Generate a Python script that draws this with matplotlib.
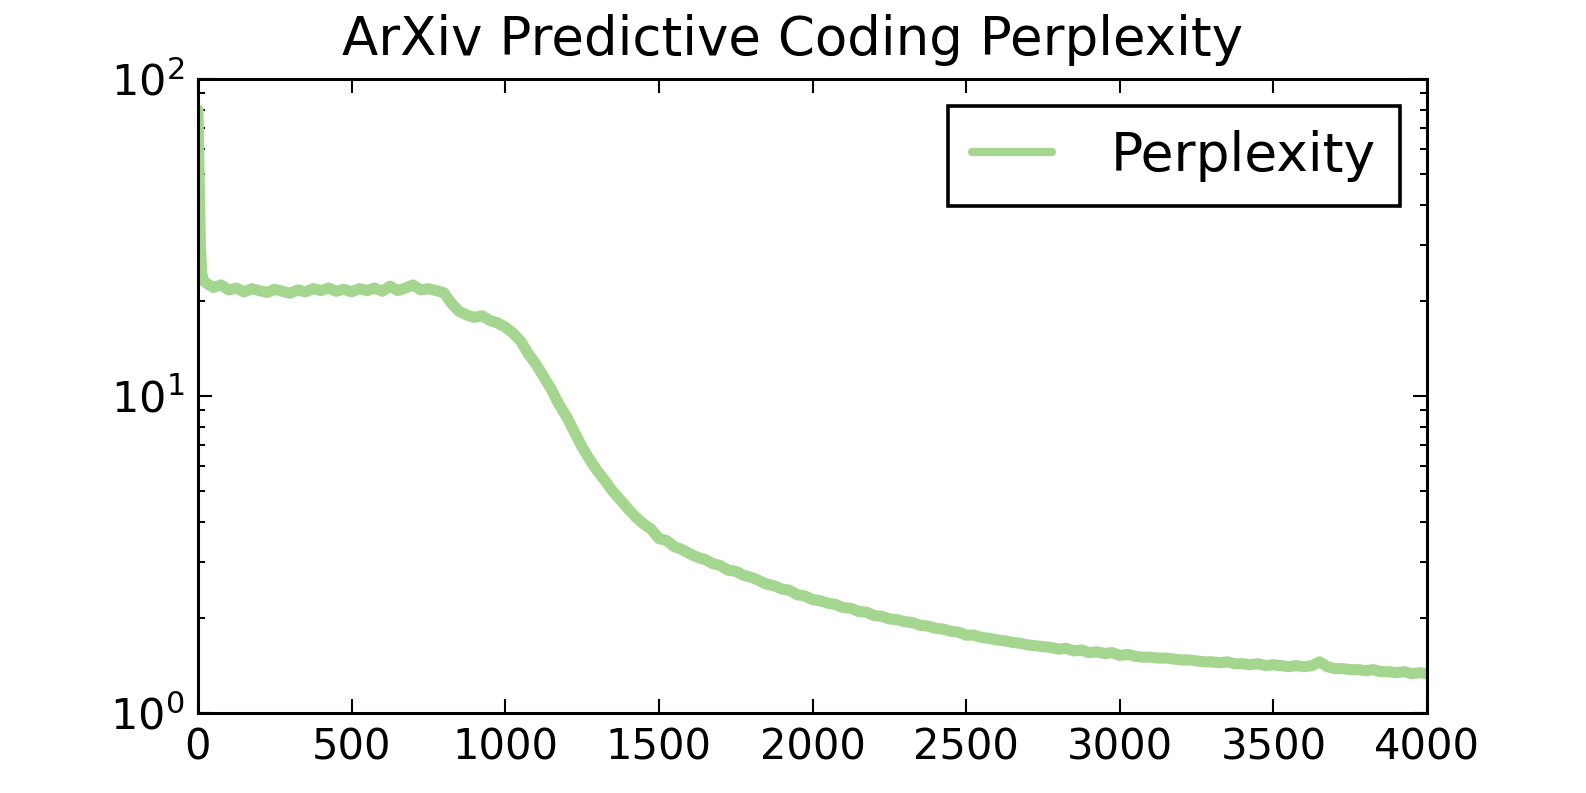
import matplotlib
matplotlib.use("Agg")
import matplotlib.pyplot as plt
from matplotlib.ticker import LogLocator, NullFormatter

# ---- data ----
steps_head = [0, 4, 8, 12, 16, 20]
perp_head = [80.0, 50.0, 30.0, 24.5, 23.5, 23.0]

steps = [25, 50, 75, 100, 125, 150, 175, 200, 225, 250, 275, 300, 325, 350, 375,
         400, 425, 450, 475, 500, 525, 550, 575, 600, 625, 650, 675, 700, 725, 750,
         775, 800, 825, 850, 875, 900, 925, 950, 975, 1000, 1025, 1050, 1075, 1100,
         1125, 1150, 1175, 1200, 1225, 1250, 1275, 1300, 1325, 1350, 1375, 1400,
         1425, 1450, 1475, 1500, 1525, 1550, 1575, 1600, 1625, 1650, 1675, 1700,
         1725, 1750, 1775, 1800, 1825, 1850, 1875, 1900, 1925, 1950, 1975, 2000,
         2025, 2050, 2075, 2100, 2125, 2150, 2175, 2200, 2225, 2250, 2275, 2300,
         2325, 2350, 2375, 2400, 2425, 2450, 2475, 2500, 2525, 2550, 2575, 2600,
         2625, 2650, 2675, 2700, 2725, 2750, 2775, 2800, 2825, 2850, 2875, 2900,
         2925, 2950, 2975, 3000, 3025, 3050, 3075, 3100, 3125, 3150, 3175, 3200,
         3225, 3250, 3275, 3300, 3325, 3350, 3375, 3400, 3425, 3450, 3475, 3500,
         3525, 3550, 3575, 3600, 3625, 3650, 3675, 3700, 3725, 3750, 3775, 3800,
         3825, 3850, 3875, 3900, 3925, 3950, 3975, 4000]
perplexity = [22.8, 22.0, 22.4, 21.6, 21.9, 21.3, 21.8, 21.5, 21.2, 21.7, 21.4, 21.1,
              21.6, 21.3, 21.8, 21.5, 21.9, 21.4, 21.7, 21.3, 21.8, 21.5, 21.9, 21.4,
              22.2, 21.5, 21.9, 22.4, 21.6, 21.8, 21.5, 21.2, 19.6, 18.5, 18.0, 17.7,
              17.9, 17.3, 17.0, 16.5, 15.8, 14.9, 13.6, 12.6, 11.5, 10.5, 9.4, 8.6,
              7.7, 6.9, 6.3, 5.8, 5.4, 5.0, 4.7, 4.4, 4.15, 3.95, 3.8, 3.55, 3.5, 3.35,
              3.28, 3.18, 3.1, 3.05, 2.96, 2.92, 2.82, 2.80, 2.72, 2.68, 2.62, 2.55,
              2.52, 2.46, 2.44, 2.36, 2.34, 2.28, 2.26, 2.22, 2.20, 2.15, 2.14, 2.09,
              2.08, 2.03, 2.02, 1.98, 1.97, 1.94, 1.93, 1.89, 1.88, 1.85, 1.84, 1.81,
              1.80, 1.76, 1.76, 1.73, 1.72, 1.70, 1.69, 1.67, 1.66, 1.64, 1.63, 1.62,
              1.61, 1.59, 1.60, 1.57, 1.58, 1.55, 1.56, 1.54, 1.55, 1.52, 1.53, 1.51,
              1.50, 1.50, 1.49, 1.49, 1.48, 1.47, 1.47, 1.46, 1.45, 1.45, 1.44, 1.45,
              1.43, 1.43, 1.42, 1.43, 1.41, 1.42, 1.41, 1.40, 1.41, 1.40, 1.41, 1.45,
              1.40, 1.38, 1.38, 1.37, 1.37, 1.36, 1.37, 1.35, 1.35, 1.34, 1.35, 1.33,
              1.34, 1.33]

x_ticks = [0, 500, 1000, 1500, 2000, 2500, 3000, 3500, 4000]
title = "ArXiv Predictive Coding Perplexity"
series_label = "Perplexity"
line_color = "#a5d690"

# ---- figure ----
fig = plt.figure(figsize=(15.86, 7.93), dpi=100)
ax = fig.add_axes([0.1248, 0.1009, 0.8998 - 0.1248, 0.9004 - 0.1009])

ax.plot(steps_head + steps, perp_head + perplexity, color=line_color,
        linewidth=8, label=series_label, solid_joinstyle="round",
        solid_capstyle="round")

ax.set_yscale("log")
ax.set_xlim(0, 4000)
ax.set_ylim(1, 100)
ax.set_xticks(x_ticks)
ax.yaxis.set_minor_locator(LogLocator(base=10, subs=range(2, 10)))
ax.yaxis.set_minor_formatter(NullFormatter())

ax.tick_params(which="both", direction="in", top=True, right=True,
               labelsize=30, width=1.5)
ax.tick_params(axis="y", labelsize=31)
ax.tick_params(which="major", length=10, pad=10)
ax.tick_params(which="minor", length=5)
for sp in ax.spines.values():
    sp.set_linewidth(2.2)

ax.set_title(title, fontsize=38.2, pad=17, x=0.484)

leg = ax.legend(loc="upper right", fontsize=38.5, fancybox=False, framealpha=1,
                handlelength=1.5, handletextpad=1.1, borderaxespad=0.5,
                borderpad=0.45)
leg.get_frame().set_edgecolor("black")
leg.get_frame().set_linewidth(2.6)
leg.get_lines()[0].set_linewidth(6)

fig.savefig("out.png", dpi=100)
